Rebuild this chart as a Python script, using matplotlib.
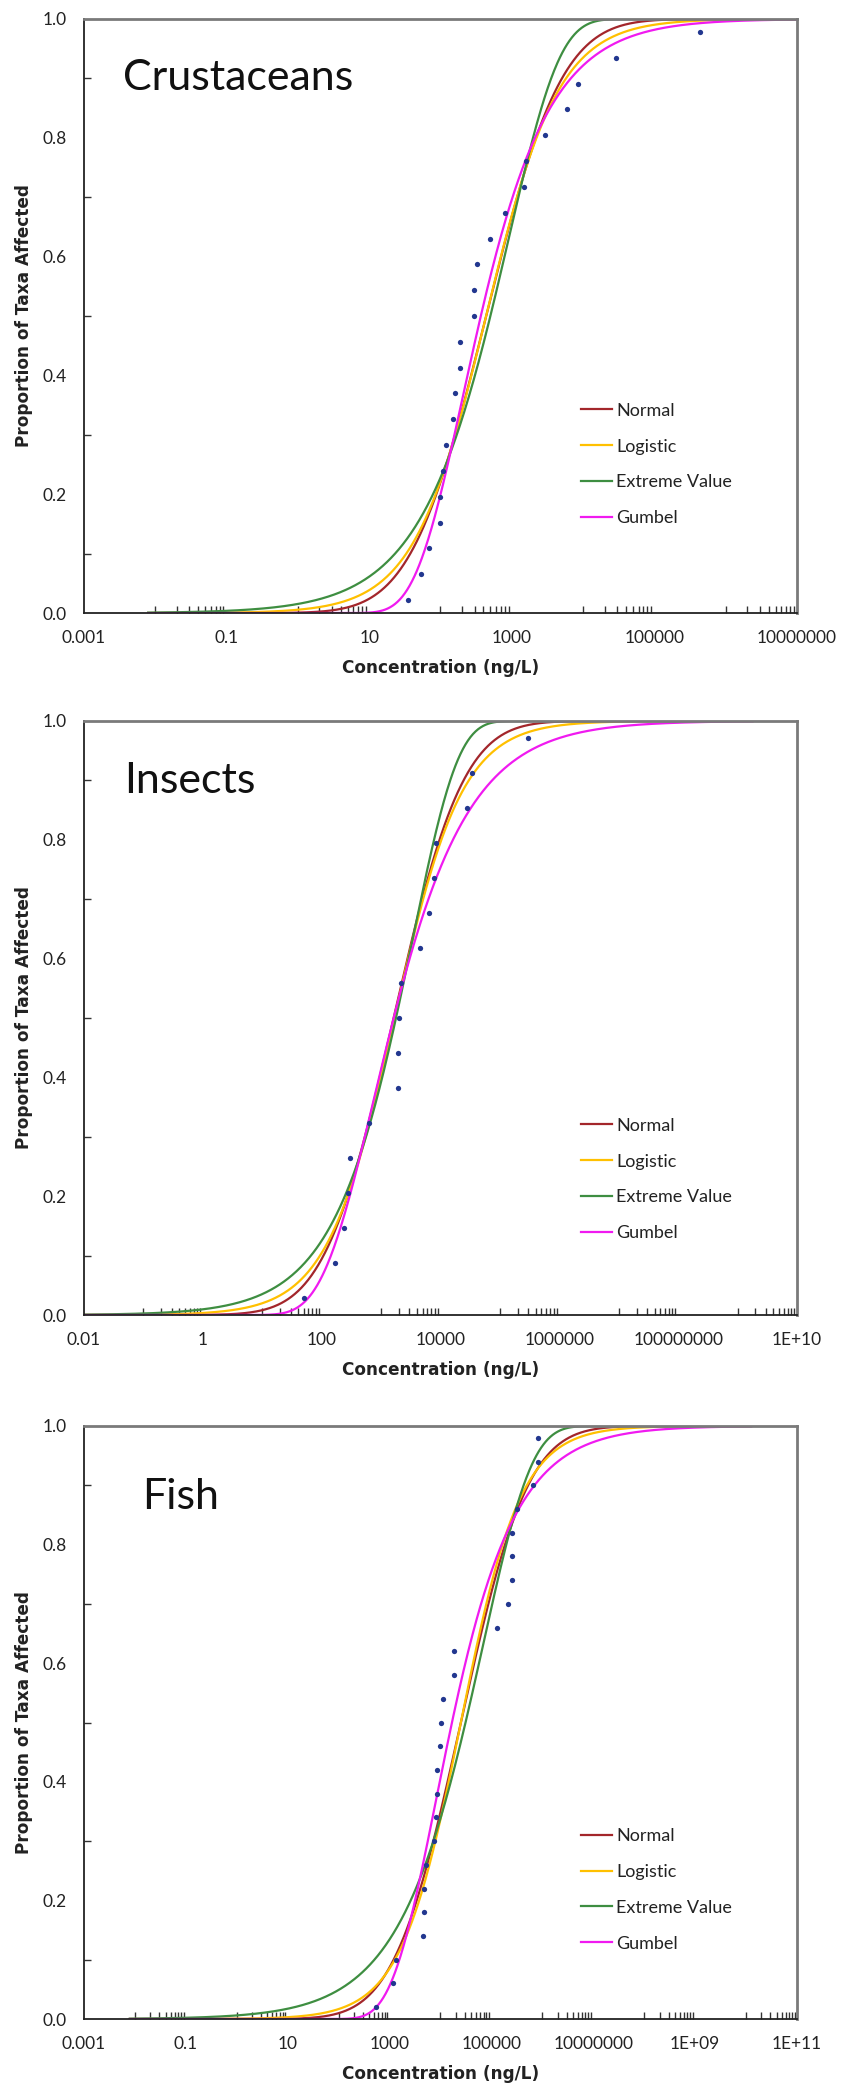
import math
import numpy as np
import matplotlib
matplotlib.use("Agg")
import matplotlib.pyplot as plt
from matplotlib.ticker import FixedLocator, NullFormatter

plt.rcParams["font.family"] = ["Lato", "DejaVu Sans"]

# ---- species sensitivity data: log10 concentration (ng/L) and cumulative proportion ----
crust_log_conc = [1.55, 1.73, 1.84, 2.00, 2.00, 2.04, 2.08, 2.17, 2.20, 2.27, 2.27, 2.47,
                  2.47, 2.51, 2.70, 2.90, 3.17, 3.20, 3.47, 3.77, 3.93, 4.46, 5.64]
crust_prop = [0.022, 0.065, 0.109, 0.152, 0.196, 0.239, 0.283, 0.326, 0.370, 0.413, 0.457, 0.500,
              0.543, 0.587, 0.630, 0.674, 0.717, 0.761, 0.804, 0.848, 0.891, 0.935, 0.978]

insect_log_conc = [1.70, 2.22, 2.38, 2.45, 2.47, 2.79, 3.29, 3.29, 3.30, 3.33, 3.65, 3.81,
                   3.89, 3.92, 4.44, 4.53, 5.48]
insect_prop = [0.029, 0.088, 0.147, 0.206, 0.265, 0.324, 0.382, 0.441, 0.500, 0.559, 0.618,
               0.676, 0.735, 0.794, 0.853, 0.912, 0.971]

fish_log_conc = [2.74, 3.06, 3.12, 3.65, 3.68, 3.68, 3.71, 3.88, 3.91, 3.94, 3.94, 4.00, 4.01,
                 4.05, 4.27, 4.27, 5.10, 5.33, 5.40, 5.41, 5.41, 5.51, 5.82, 5.92, 5.92]
fish_prop = [0.02, 0.06, 0.10, 0.14, 0.18, 0.22, 0.26, 0.30, 0.34, 0.38, 0.42, 0.46, 0.50,
             0.54, 0.58, 0.62, 0.66, 0.70, 0.74, 0.78, 0.82, 0.86, 0.90, 0.94, 0.98]

# ---- fitted distributions (location, scale in log10 units) ----
model_names = ["Normal", "Logistic", "Extreme Value", "Gumbel"]
model_colors = ["#A3262B", "#FFC000", "#3E8E41", "#F01AF0"]

crust_loc = [2.64, 2.64, 2.96, 2.32]
crust_scale = [0.83, 0.51, 0.71, 0.67]
insect_loc = [3.21, 3.225, 3.53, 2.89]
insect_scale = [0.92, 0.57, 0.76, 0.88]
fish_loc = [4.40, 4.40, 4.84, 3.91]
fish_scale = [1.03, 0.59, 0.95, 0.86]

# log10 range over which each panel's fitted curves were evaluated
crust_span = (-2.1, 7.0)
insect_span = (-2.0, 9.25)
fish_span = (-2.1, 10.1)

# axis limits (log10 exponents) and tick labels
crust_xlim = (-3, 7)
insect_xlim = (-2, 10)
fish_xlim = (-3, 11)
crust_xticklabels = ["0.001", "0.1", "10", "1000", "100000", "10000000"]
insect_xticklabels = ["0.01", "1", "100", "10000", "1000000", "100000000", "1E+10"]
fish_xticklabels = ["0.001", "0.1", "10", "1000", "100000", "10000000", "1E+09", "1E+11"]

_erf = np.frompyfunc(math.erf, 1, 1)


def model_cdf(name, x, loc, scale):
    z = (x - loc) / scale
    if name == "Normal":
        return 0.5 * (1.0 + _erf(z / math.sqrt(2.0)).astype(float))
    if name == "Logistic":
        return 1.0 / (1.0 + np.exp(-z))
    if name == "Extreme Value":
        return 1.0 - np.exp(-np.exp(z))
    return np.exp(-np.exp(-z))  # Gumbel


def draw_panel(ax, title, title_pos, log_conc, prop, locs, scales, span, xlim,
               xticklabels, legend_y):
    xs = np.linspace(span[0], span[1], 800)
    for name, color, loc, scale in zip(model_names, model_colors, locs, scales):
        ax.plot(10.0 ** xs, model_cdf(name, xs, loc, scale), color=color, lw=1.6,
                label=name, zorder=2)
    ax.plot(10.0 ** np.array(log_conc), prop, "o", ms=3.8, color="#22378F",
            mec="none", zorder=4)

    ax.set_xscale("log")
    ax.set_xlim(10.0 ** xlim[0], 10.0 ** xlim[1])
    ax.set_ylim(0, 1)

    majors = 10.0 ** np.arange(xlim[0], xlim[1] + 1, 2)
    ax.xaxis.set_major_locator(FixedLocator(majors))
    ax.set_xticklabels(xticklabels)
    minors = [m * 10.0 ** (e + 1) for e in range(xlim[0], xlim[1], 2) for m in range(1, 10)]
    ax.xaxis.set_minor_locator(FixedLocator(minors))
    ax.xaxis.set_minor_formatter(NullFormatter())

    ax.set_yticks(np.arange(0, 1.01, 0.2))
    ax.set_yticklabels(["0.0", "0.2", "0.4", "0.6", "0.8", "1.0"])
    ax.yaxis.set_minor_locator(FixedLocator([0.1, 0.3, 0.5, 0.7, 0.9]))

    ax.tick_params(which="major", length=0, pad=12.5, labelsize=12.5, labelcolor="#222222")
    ax.tick_params(which="minor", direction="in", length=5, width=1, color="#333333")

    for side in ("left", "bottom"):
        ax.spines[side].set_color("#222222")
        ax.spines[side].set_linewidth(1.3)
    for side in ("top", "right"):
        ax.spines[side].set_color("#7a7a7a")
        ax.spines[side].set_linewidth(2.0)

    ax.set_xlabel("Concentration (ng/L)", fontsize=12.2, fontweight="bold",
                  family="DejaVu Sans", color="#222222")
    ax.xaxis.set_label_coords(0.5, -55 / 594)
    ax.xaxis.label.set_va("center")
    ax.set_ylabel("Proportion of Taxa Affected", fontsize=12.2, fontweight="bold",
                  family="DejaVu Sans", color="#222222")
    ax.yaxis.set_label_coords(-60 / 713, 0.5)
    ax.yaxis.label.set_va("center")

    ax.text(title_pos[0], title_pos[1], title, transform=ax.transAxes, fontsize=31,
            ha="left", va="baseline", color="#111111")

    ax.legend(loc="center left", bbox_to_anchor=(0.697, legend_y), frameon=False,
              fontsize=13, handlelength=1.72, handletextpad=0.22, labelspacing=1.1,
              borderpad=0, borderaxespad=0, labelcolor="#222222")


fig = plt.figure(figsize=(8.44, 20.86), dpi=100)
ax1 = fig.add_axes([0.0995, 0.7061, 0.8448, 0.2848])
ax2 = fig.add_axes([0.0995, 0.3696, 0.8448, 0.2848])
ax3 = fig.add_axes([0.0995, 0.0321, 0.8448, 0.2843])

draw_panel(ax1, "Crustaceans", (0.055, 0.880), crust_log_conc, crust_prop, crust_loc,
           crust_scale, crust_span, crust_xlim, crust_xticklabels, 0.25)
draw_panel(ax2, "Insects", (0.057, 0.879), insect_log_conc, insect_prop, insect_loc,
           insect_scale, insect_span, insect_xlim, insect_xticklabels, 0.228)
draw_panel(ax3, "Fish", (0.082, 0.860), fish_log_conc, fish_prop, fish_loc,
           fish_scale, fish_span, fish_xlim, fish_xticklabels, 0.218)

fig.savefig("out.png", dpi=100)
